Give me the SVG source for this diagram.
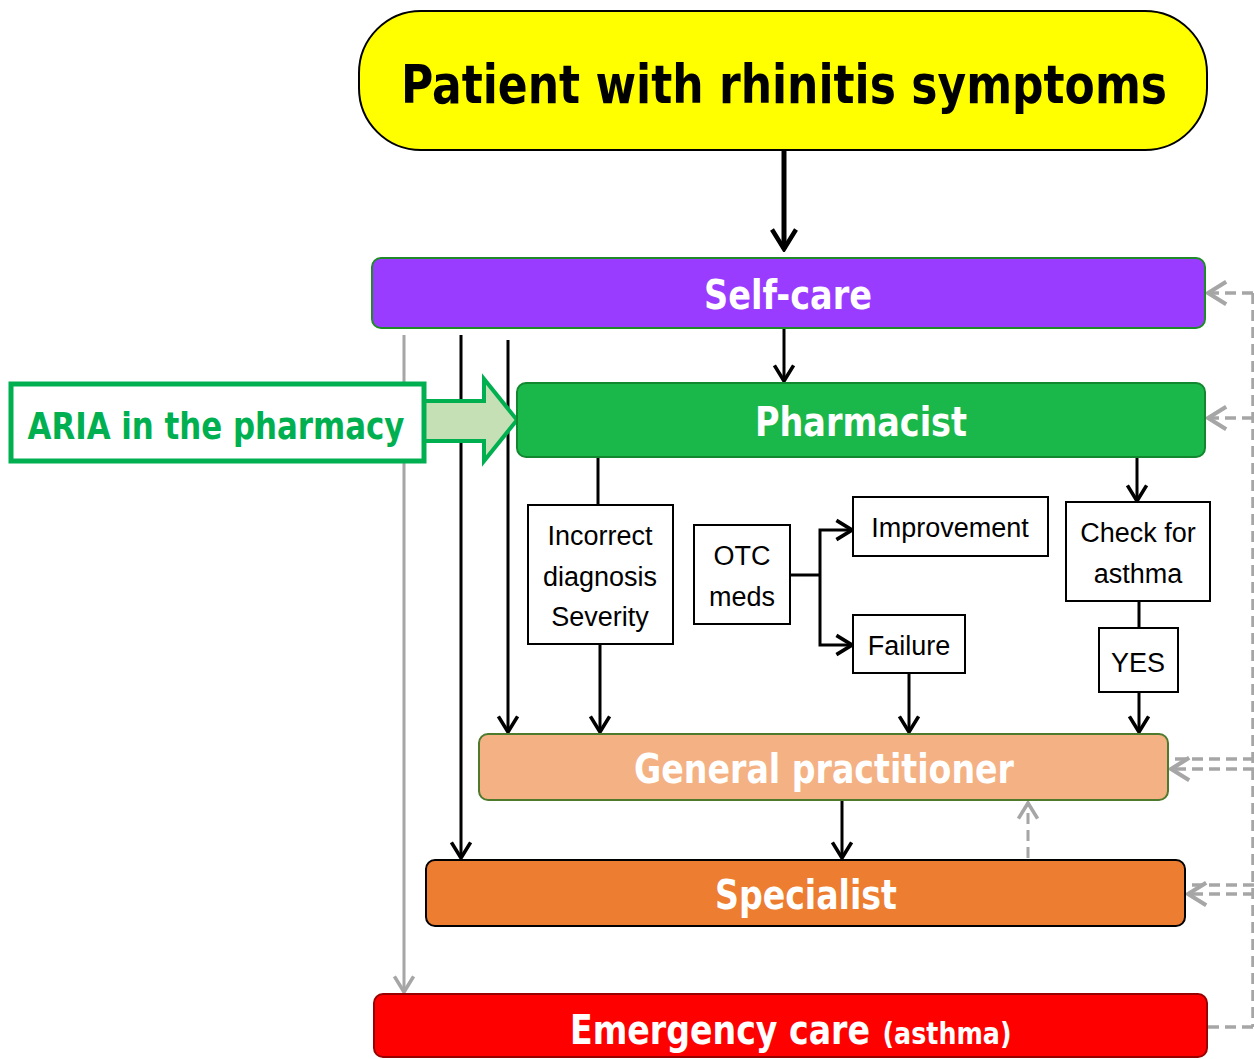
<svg xmlns="http://www.w3.org/2000/svg" width="1254" height="1059" viewBox="0 0 1254 1059">
<defs>
<style>
.title{font-family:"DejaVu Sans Condensed","DejaVu Sans",sans-serif;font-weight:bold;font-stretch:condensed;text-anchor:middle}
.wt{fill:#fff;font-size:40px}
.sm{font-family:"Liberation Sans","Open Sans",sans-serif;font-size:27px;text-anchor:middle;fill:#000}
.box{fill:#fff;stroke:#000;stroke-width:2}
.bl{stroke:#000;stroke-width:3;fill:none}
.gr{stroke:#a6a6a6;stroke-width:3;fill:none}
.gd{stroke:#a6a6a6;stroke-width:3.5;fill:none;stroke-dasharray:11 6}
</style>
<marker id="ab" viewBox="0 0 20 20" refX="18" refY="10" markerWidth="8" markerHeight="8" orient="auto" markerUnits="strokeWidth">
<polyline points="5,2 18,10 5,18" fill="none" stroke="#000" stroke-width="3"/>
</marker>
<marker id="ab5" viewBox="0 0 20 20" refX="18" refY="10" markerWidth="6" markerHeight="6" orient="auto" markerUnits="strokeWidth">
<polyline points="5,2 18,10 5,18" fill="none" stroke="#000" stroke-width="3"/>
</marker>
<marker id="ag" viewBox="0 0 20 20" refX="18" refY="10" markerWidth="8" markerHeight="8" orient="auto" markerUnits="strokeWidth">
<polyline points="5,2 18,10 5,18" fill="none" stroke="#a6a6a6" stroke-width="3"/>
</marker>
</defs>
<rect width="1254" height="1059" fill="#fff"/>

<g id="connectors">
<line class="bl" x1="784" y1="150" x2="784" y2="249" marker-end="url(#ab5)" style="stroke-width:5"/>
<line class="bl" x1="784" y1="328" x2="784" y2="381" marker-end="url(#ab)"/>
<line class="gr" x1="404" y1="335" x2="404" y2="992" marker-end="url(#ag)"/>
<line class="bl" x1="461" y1="335" x2="461" y2="858" marker-end="url(#ab)"/>
<line class="bl" x1="508" y1="340" x2="508" y2="732" marker-end="url(#ab)"/>
<line class="bl" x1="598" y1="457" x2="598" y2="505"/>
<line class="bl" x1="600" y1="644" x2="600" y2="732" marker-end="url(#ab)"/>
<polyline class="bl" points="790,575 820,575"/>
<polyline class="bl" points="820,575 820,530 852,530" marker-end="url(#ab)"/>
<polyline class="bl" points="820,575 820,645 852,645" marker-end="url(#ab)"/>
<line class="bl" x1="909" y1="673" x2="909" y2="732" marker-end="url(#ab)"/>
<line class="bl" x1="1137" y1="457" x2="1137" y2="501" marker-end="url(#ab)"/>
<line class="bl" x1="1139" y1="601" x2="1139" y2="628"/>
<line class="bl" x1="1139" y1="692" x2="1139" y2="732" marker-end="url(#ab)"/>
<line class="bl" x1="842" y1="800" x2="842" y2="858" marker-end="url(#ab)"/>
<line class="gd" x1="1028" y1="858" x2="1028" y2="803" marker-end="url(#ag)" style="stroke-width:3"/>
<line class="gd" x1="1253" y1="293" x2="1253" y2="1027"/>
<line class="gd" x1="1253" y1="293" x2="1208" y2="293" marker-end="url(#ag)"/>
<line class="gd" x1="1253" y1="418" x2="1208" y2="418" marker-end="url(#ag)"/>
<line class="gd" x1="1254" y1="759" x2="1170" y2="759"/>
<line class="gd" x1="1254" y1="769" x2="1171" y2="769" marker-end="url(#ag)"/>
<line class="gd" x1="1254" y1="885" x2="1187" y2="885"/>
<line class="gd" x1="1254" y1="894" x2="1188" y2="894" marker-end="url(#ag)"/>
<line class="gd" x1="1208" y1="1027" x2="1254" y2="1027"/>
</g>

<g id="patient">
<rect x="359" y="11" width="848" height="139" rx="62" fill="#ffff00" stroke="#000" stroke-width="2"/>
<text class="title" x="784" y="103" font-size="54" fill="#000" textLength="766" lengthAdjust="spacingAndGlyphs">Patient with rhinitis symptoms</text>
</g>

<g id="selfcare">
<rect x="372" y="258" width="833" height="70" rx="9" fill="#9a3cff" stroke="#1f8a2a" stroke-width="2"/>
<text class="title wt" x="788" y="309" textLength="168" lengthAdjust="spacingAndGlyphs">Self-care</text>
</g>

<g id="aria">
<path d="M424,401 L484,401 L484,379 L517,420 L484,461 L484,441 L424,441 Z" fill="#c5e0b4" stroke="#00b050" stroke-width="4" stroke-linejoin="miter"/>
<rect x="11" y="384" width="413" height="77" fill="#fff" stroke="#00b050" stroke-width="5"/>
<text class="title" x="216" y="439" font-size="38" fill="#00b050" textLength="377" lengthAdjust="spacingAndGlyphs">ARIA in the pharmacy</text>
</g>

<g id="pharmacist">
<rect x="517" y="383" width="688" height="74" rx="9" fill="#1ab84a" stroke="#12872f" stroke-width="2"/>
<text class="title wt" x="861" y="436" textLength="212" lengthAdjust="spacingAndGlyphs">Pharmacist</text>
</g>

<g id="incorrect">
<rect class="box" x="528" y="505" width="145" height="139"/>
<text class="sm" x="600" y="545">Incorrect</text>
<text class="sm" x="600" y="586">diagnosis</text>
<text class="sm" x="600" y="626">Severity</text>
</g>

<g id="otc">
<rect class="box" x="694" y="525" width="96" height="99"/>
<text class="sm" x="742" y="565">OTC</text>
<text class="sm" x="742" y="606">meds</text>
</g>

<g id="improvement">
<rect class="box" x="853" y="497" width="195" height="59"/>
<text class="sm" x="950" y="537">Improvement</text>
</g>

<g id="failure">
<rect class="box" x="853" y="615" width="112" height="58"/>
<text class="sm" x="909" y="655">Failure</text>
</g>

<g id="check">
<rect class="box" x="1066" y="502" width="144" height="99"/>
<text class="sm" x="1138" y="542">Check for</text>
<text class="sm" x="1138" y="583">asthma</text>
</g>

<g id="yes">
<rect class="box" x="1099" y="628" width="79" height="64"/>
<text class="sm" x="1138" y="672" font-size="30">YES</text>
</g>

<g id="gp">
<rect x="479" y="734" width="689" height="66" rx="9" fill="#f4b183" stroke="#4e7a2e" stroke-width="2"/>
<text class="title wt" x="824" y="783" textLength="380" lengthAdjust="spacingAndGlyphs">General practitioner</text>
</g>

<g id="specialist">
<rect x="426" y="860" width="759" height="66" rx="9" fill="#ed7d31" stroke="#000" stroke-width="2"/>
<text class="title wt" x="806" y="909" textLength="182" lengthAdjust="spacingAndGlyphs">Specialist</text>
</g>

<g id="emergency">
<rect x="374" y="994" width="833" height="63" rx="9" fill="#ff0000" stroke="#990000" stroke-width="2"/>
<text class="title" x="720" y="1044" fill="#fff" font-size="40" textLength="300" lengthAdjust="spacingAndGlyphs">Emergency care</text>
<text class="title" x="947" y="1044" fill="#fff" font-size="31" textLength="129" lengthAdjust="spacingAndGlyphs">(asthma)</text>
</g>
</svg>
